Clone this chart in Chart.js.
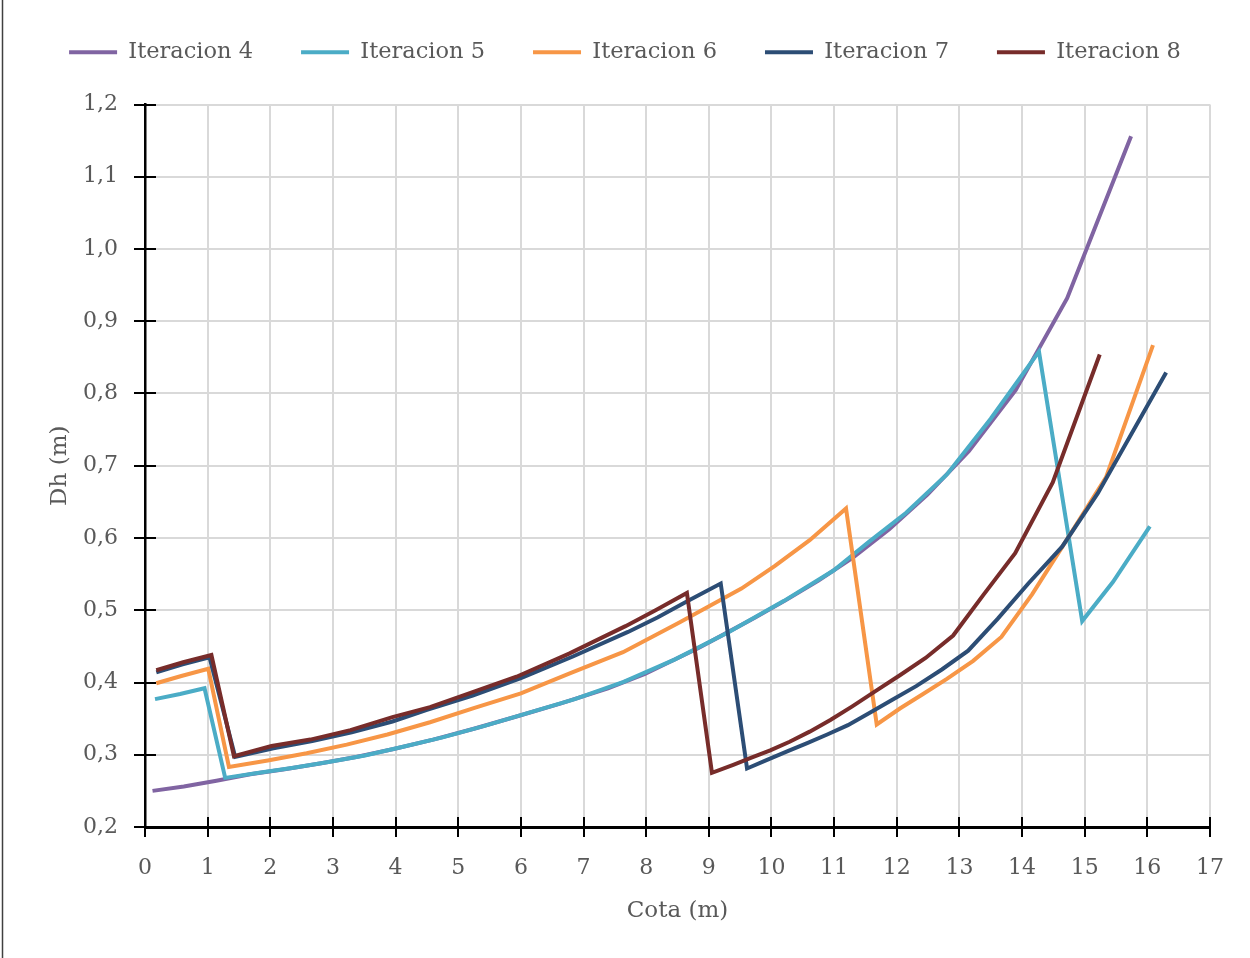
<!DOCTYPE html>
<html>
<head>
<meta charset="utf-8">
<script src="https://cdn.jsdelivr.net/npm/chart.js@4.4.1/dist/chart.umd.min.js"></script>
<style>
  html, body { margin: 0; padding: 0; background: #ffffff; }
  #wrap { position: relative; width: 1250px; height: 958px; }
</style>
</head>
<body>
<div id="wrap"><canvas id="chart" width="1250" height="958"></canvas></div>
<script>
// Cota (m) / Dh (m) pairs for each iteration
const seriesNames = ['Iteracion 4', 'Iteracion 5', 'Iteracion 6', 'Iteracion 7', 'Iteracion 8'];

const it4X = [0.12, 0.62, 1.14, 1.68, 2.23, 2.79, 3.37, 3.97, 4.60, 5.25, 5.93, 6.64, 7.39, 7.98, 8.39, 8.82, 9.27, 9.74, 10.23, 10.75, 11.30, 11.88, 12.49, 13.15, 13.90, 14.72, 15.74];
const it4Y = [0.250, 0.256, 0.264, 0.273, 0.280, 0.288, 0.297, 0.308, 0.321, 0.336, 0.353, 0.371, 0.392, 0.412, 0.429, 0.447, 0.468, 0.490, 0.514, 0.541, 0.573, 0.612, 0.660, 0.720, 0.805, 0.932, 1.156];

const it5X = [0.16, 0.56, 0.95, 1.28, 1.82, 2.37, 2.93, 3.51, 4.12, 4.75, 5.42, 6.12, 6.86, 7.64, 8.46, 9.32, 10.20, 10.99, 11.56, 12.15, 12.80, 13.50, 14.27, 14.96, 15.45, 16.04];
const it5Y = [0.377, 0.384, 0.392, 0.268, 0.275, 0.282, 0.290, 0.299, 0.311, 0.324, 0.340, 0.358, 0.377, 0.401, 0.432, 0.470, 0.513, 0.555, 0.595, 0.635, 0.688, 0.765, 0.858, 0.485, 0.539, 0.616];

const it6X = [0.18, 0.58, 1.01, 1.34, 1.96, 2.58, 3.22, 3.87, 4.55, 5.26, 6.00, 6.79, 7.63, 8.53, 9.52, 10.05, 10.61, 11.19, 11.68, 12.05, 12.42, 12.80, 13.22, 13.67, 14.16, 14.71, 15.34, 16.09];
const it6Y = [0.399, 0.409, 0.419, 0.283, 0.292, 0.302, 0.314, 0.328, 0.345, 0.365, 0.385, 0.413, 0.442, 0.483, 0.530, 0.561, 0.597, 0.641, 0.342, 0.364, 0.384, 0.405, 0.430, 0.463, 0.522, 0.597, 0.684, 0.867];

const it7X = [0.18, 0.60, 1.03, 1.44, 2.05, 2.67, 3.30, 3.95, 4.50, 5.23, 6.00, 6.83, 7.71, 8.18, 8.67, 9.19, 9.61, 9.93, 10.26, 10.57, 10.89, 11.22, 11.57, 11.93, 12.31, 12.72, 13.14, 13.61, 14.10, 14.64, 15.21, 16.30];
const it7Y = [0.414, 0.425, 0.435, 0.297, 0.309, 0.319, 0.331, 0.346, 0.362, 0.382, 0.406, 0.436, 0.470, 0.490, 0.513, 0.537, 0.281, 0.293, 0.305, 0.316, 0.328, 0.341, 0.358, 0.376, 0.395, 0.418, 0.444, 0.488, 0.537, 0.588, 0.662, 0.829];

const it8X = [0.18, 0.61, 1.06, 1.42, 2.02, 2.64, 3.28, 3.95, 4.55, 5.14, 5.93, 6.77, 7.67, 8.15, 8.65, 9.05, 9.39, 9.68, 9.98, 10.29, 10.61, 10.94, 11.29, 11.66, 12.05, 12.46, 12.90, 13.38, 13.89, 14.49, 15.24];
const it8Y = [0.417, 0.428, 0.438, 0.298, 0.312, 0.321, 0.334, 0.352, 0.366, 0.384, 0.408, 0.440, 0.478, 0.500, 0.524, 0.275, 0.286, 0.296, 0.306, 0.318, 0.332, 0.348, 0.367, 0.388, 0.410, 0.434, 0.465, 0.521, 0.579, 0.677, 0.854];

const seriesColors = ['#8064a2', '#4bacc6', '#f79646', '#2c4d75', '#772c2a'];
const xTitle = 'Cota (m)';
const yTitle = 'Dh (m)';

const FONT = '"DejaVu Serif", "Liberation Serif", serif';
const TEXT = '#595959';

function pairs(xs, ys) {
  return xs.map((x, i) => ({ x: x, y: ys[i] }));
}

const allX = [it4X, it5X, it6X, it7X, it8X];
const allY = [it4Y, it5Y, it6Y, it7Y, it8Y];

const datasets = seriesNames.map((name, i) => ({
  label: name,
  data: pairs(allX[i], allY[i]),
  showLine: true,
  borderColor: seriesColors[i],
  backgroundColor: seriesColors[i],
  borderWidth: 4,
  pointRadius: 0,
  pointHoverRadius: 0,
  tension: 0,
  fill: false,
  order: seriesNames.length - 1 - i   // later iterations painted on top
}));

// Empty layout box that keeps a gap between the legend and the plot
const legendGap = {
  id: 'legendGap',
  beforeInit(chart) {
    Chart.layouts.addBox(chart, {
      position: 'top',
      weight: 0,
      fullSize: true,
      options: {},
      top: 0, left: 0, right: 0, bottom: 0, width: 0, height: 0,
      isHorizontal() { return true; },
      update(maxWidth) { this.width = maxWidth; this.height = 31; },
      draw() {}
    });
  }
};

// Tick marks that cross the axis lines, plus the thin frame line on the left
const axisDecor = {
  id: 'axisDecor',
  afterDraw(chart) {
    const ctx = chart.ctx;
    const xs = chart.scales.x;
    const ys = chart.scales.y;
    ctx.save();
    ctx.strokeStyle = '#000000';
    ctx.lineWidth = 2;
    ctx.beginPath();
    xs.ticks.forEach(t => {
      const px = Math.round(xs.getPixelForValue(t.value));
      ctx.moveTo(px, ys.bottom - 10);
      ctx.lineTo(px, ys.bottom + 10);
    });
    ys.ticks.forEach(t => {
      const py = Math.round(ys.getPixelForValue(t.value));
      ctx.moveTo(xs.left - 11, py);
      ctx.lineTo(xs.left + 11, py);
    });
    ctx.stroke();
    ctx.strokeStyle = '#404040';
    ctx.lineWidth = 1.5;
    ctx.beginPath();
    ctx.moveTo(2.5, 0);
    ctx.lineTo(2.5, chart.height);
    ctx.stroke();
    ctx.restore();
  }
};

new Chart(document.getElementById('chart'), {
  type: 'scatter',
  data: { datasets: datasets },
  plugins: [legendGap, axisDecor],
  options: {
    responsive: false,
    animation: false,
    devicePixelRatio: 1,
    layout: { padding: { left: 0, right: 0, top: -7, bottom: 0 } },
    plugins: {
      tooltip: { enabled: false },
      legend: {
        position: 'top',
        align: 'center',
        labels: {
          color: TEXT,
          font: { family: FONT, size: 22.5 },
          boxWidth: 48,
          boxHeight: 4,
          padding: 48,
          sort: (a, b) => a.datasetIndex - b.datasetIndex,
          generateLabels(chart) {
            return Chart.defaults.plugins.legend.labels.generateLabels(chart)
              .map(l => Object.assign(l, { lineWidth: 0 }));
          }
        }
      }
    },
    scales: {
      x: {
        type: 'linear',
        min: 0,
        max: 17,
        ticks: {
          stepSize: 1,
          autoSkip: false,
          maxRotation: 0,
          color: TEXT,
          font: { family: FONT, size: 22 },
          padding: 28
        },
        grid: { color: '#d9d9d9', lineWidth: 2, drawTicks: false },
        border: { color: '#000000', width: 3 },
        title: {
          display: true,
          text: xTitle,
          color: TEXT,
          font: { family: FONT, size: 23 },
          padding: { top: 0, bottom: 33 }
        },
        afterFit(scale) { scale.height = 131; scale.paddingRight = 40; }
      },
      y: {
        type: 'linear',
        min: 0.2,
        max: 1.2,
        ticks: {
          stepSize: 0.1,
          color: TEXT,
          font: { family: FONT, size: 22 },
          padding: 27,
          callback: v => Number(v).toFixed(1).replace('.', ',')
        },
        grid: { color: '#d9d9d9', lineWidth: 2, drawTicks: false },
        border: { color: '#000000', width: 2.5 },
        title: {
          display: true,
          text: yTitle,
          color: TEXT,
          font: { family: FONT, size: 23 },
          padding: { top: 46, bottom: 0 }
        },
        afterFit(scale) { scale.width = 145; }
      }
    }
  }
});
</script>
</body>
</html>
